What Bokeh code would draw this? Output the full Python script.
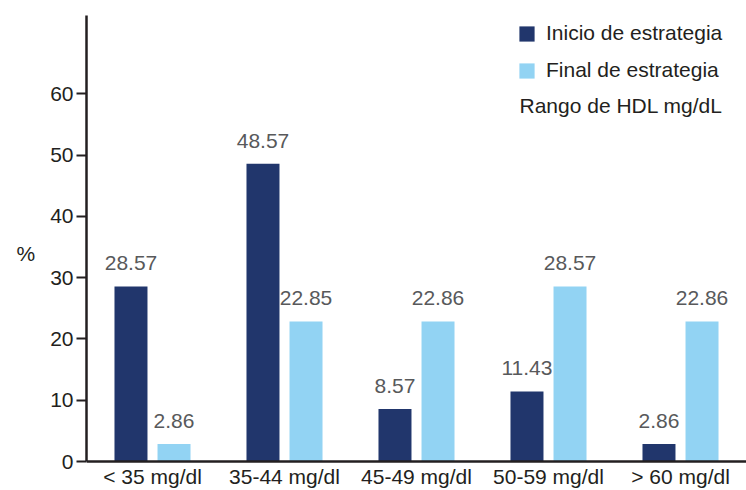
from bokeh.plotting import figure
from bokeh.models import Range1d, FixedTicker, Span, Legend, LegendItem, Label, ColumnDataSource
from bokeh.transform import dodge
from bokeh.embed import file_html
from bokeh.resources import INLINE
from bokeh.core.properties import value

# ---- data ----
categories = ["< 35 mg/dl", "35-44 mg/dl", "45-49 mg/dl", "50-59 mg/dl", "> 60 mg/dl"]
inicio = [28.57, 48.57, 8.57, 11.43, 2.86]
final = [2.86, 22.85, 22.86, 28.57, 22.86]
series_names = ["Inicio de estrategia", "Final de estrategia"]
y_ticks = [0, 10, 20, 30, 40, 50, 60]
y_label = "%"
note = "Rango de HDL mg/dL"

# ---- style ----
DARK = "#21366c"
LIGHT = "#92d3f3"
INK = "#231f20"
GREY = "#58595b"
FONT = "Liberation Sans"

idx = list(range(len(categories)))
src = ColumnDataSource(dict(
    x=idx, cat=categories, inicio=inicio, final=final,
    inicio_txt=[f"{v:.2f}" for v in inicio],
    final_txt=[f"{v:.2f}" for v in final],
    base=[0] * len(idx),
))

p = figure(width=746, height=490, output_backend="svg", toolbar_location=None,
           x_range=Range1d(-0.5, 4.5), y_range=Range1d(-4.73, 72.78),
           x_axis_location=None,
           min_border_left=86, min_border_right=0, min_border_top=15, min_border_bottom=0)
p.outline_line_color = None
p.grid.visible = False
p.background_fill_color = "white"

off = 0.163
r1 = p.vbar(x=dodge("x", -off, range=p.x_range), top="inicio", width=0.25, source=src,
            fill_color=DARK, line_color=None)
r2 = p.vbar(x=dodge("x", off, range=p.x_range), top="final", width=0.25, source=src,
            fill_color=LIGHT, line_color=None)

for xoff, col in ((-off, "inicio"), (off, "final")):
    p.text(x=dodge("x", xoff, range=p.x_range), y=col, text=col + "_txt", source=src,
           text_align="center", text_baseline="alphabetic", y_offset=-23,
           text_font=value(FONT), text_font_size="21px", text_color=GREY)

# category labels under the zero line
p.text(x="x", y="base", text="cat", source=src, text_align="center", text_baseline="top",
       y_offset=3, text_font=value(FONT), text_font_size="21px", text_color=INK)

p.add_layout(Span(location=0, dimension="width", line_color=INK, line_width=2.5))

ax = p.yaxis[0]
ax.ticker = FixedTicker(ticks=y_ticks)
ax.bounds = (0, 72.78)
ax.axis_line_color = INK
ax.axis_line_width = 2.5
ax.major_tick_out = 10
ax.major_tick_in = 0
ax.major_tick_line_color = INK
ax.major_tick_line_width = 2
ax.minor_tick_out = 0
ax.minor_tick_in = 0
ax.major_label_standoff = 3
ax.major_label_text_font = FONT
ax.major_label_text_font_size = "21px"
ax.major_label_text_color = INK
ax.axis_label = y_label
ax.axis_label_orientation = "horizontal"
ax.axis_label_standoff = 12
ax.axis_label_text_font = FONT
ax.axis_label_text_font_style = "normal"
ax.axis_label_text_font_size = "21px"
ax.axis_label_text_color = INK
ax.axis_label_text_baseline = "bottom"

legend = Legend(items=[LegendItem(label=series_names[0], renderers=[r1]),
                       LegendItem(label=series_names[1], renderers=[r2])],
                location=(431, 408), orientation="vertical",
                glyph_width=19, glyph_height=19, label_height=19, label_standoff=10,
                spacing=13, padding=0, margin=0, border_line_color=None,
                background_fill_alpha=0,
                label_text_font=FONT, label_text_font_size="21px", label_text_color=INK)
p.add_layout(legend)

p.add_layout(Label(x=433, y=385, x_units="screen", y_units="screen", text=note,
                   text_baseline="alphabetic", text_font=FONT,
                   text_font_size="21px", text_color=INK))

open("out.html", "w").write(file_html(p, INLINE))
